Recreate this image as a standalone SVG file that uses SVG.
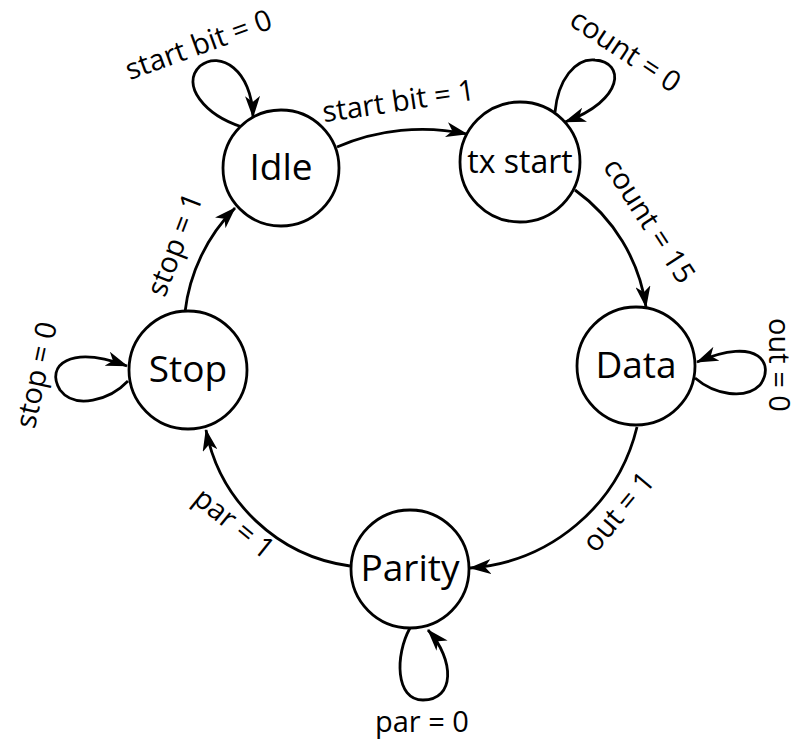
<svg xmlns="http://www.w3.org/2000/svg" width="801" height="740" viewBox="0 0 801 740">
  <style>
    .state circle { fill: #ffffff; stroke: #000000; stroke-width: 2.8; }
    .state text { font-family: "Open Sans", "Liberation Sans", sans-serif; font-size: 37px; fill: #000000; text-anchor: middle; }
    .edge { fill: none; stroke: #000000; stroke-width: 2.8; marker-end: url(#arrow); }
    .label { font-family: "Open Sans", "Liberation Sans", sans-serif; font-size: 29px; fill: #000000; text-anchor: middle; }
  </style>
  <defs>
    <marker id="arrow" markerUnits="userSpaceOnUse" markerWidth="22" markerHeight="15" viewBox="0 0 22 15" refX="21" refY="7.5" orient="auto">
      <path d="M0,0 L22,7.5 L0,15 L6,7.5 z" fill="#000000"/>
    </marker>
  </defs>

  <rect width="801" height="740" fill="#ffffff"/>

  <!-- transitions -->
  <g id="connectors">
    <path class="edge" d="M 337 147 A 215 215 0 0 1 467 134"/>
    <path class="edge" d="M 575 190 A 175 175 0 0 1 646 307"/>
    <path class="edge" d="M 637 427 A 185 185 0 0 1 470 568"/>
    <path class="edge" d="M 350 566 A 170 170 0 0 1 206 430"/>
    <path class="edge" d="M 185 312 A 176 176 0 0 1 235 208"/>

    <!-- self loops -->
    <path class="edge" d="M 242 127 C 205 115, 180 85, 200 66 C 220 50, 252 70, 253 117"/>
    <path class="edge" d="M 555 112 C 558 80, 575 58, 595 60 C 625 62, 625 100, 565 122"/>
    <path class="edge" d="M 695 378 C 715 395, 745 400, 760 385 C 775 365, 760 335, 697 362"/>
    <path class="edge" d="M 128 381 C 110 400, 75 410, 60 390 C 45 365, 70 345, 127 366"/>
    <path class="edge" d="M 410 628 C 395 655, 395 700, 423 700 C 455 700, 455 660, 428 630"/>

    <!-- transition labels -->
    <text class="label" transform="translate(202 54) rotate(-20)">start bit = 0</text>
    <text class="label" transform="translate(400 111) rotate(-8.5)">start bit = 1</text>
    <text class="label" transform="translate(620 59) rotate(33.5)">count = 0</text>
    <text class="label" transform="translate(641 226) rotate(57)">count = 15</text>
    <text class="label" transform="translate(769 365) rotate(90)">out = 0</text>
    <text class="label" transform="translate(626 518) rotate(-50)">out = 1</text>
    <text class="label" transform="translate(228 531) rotate(39)">par = 1</text>
    <text class="label" transform="translate(184 248) rotate(-69)">stop = 1</text>
    <text class="label" transform="translate(46 377) rotate(-78)">stop = 0</text>
    <text class="label" x="422" y="732">par = 0</text>
  </g>

  <!-- states -->
  <g id="idle" class="state">
    <circle cx="281" cy="168" r="58"/>
    <text x="281" y="180">Idle</text>
  </g>
  <g id="tx-start" class="state">
    <circle cx="520" cy="162" r="60"/>
    <text x="520" y="173" style="font-size:32px">tx start</text>
  </g>
  <g id="data" class="state">
    <circle cx="636" cy="366" r="59"/>
    <text x="636" y="378">Data</text>
  </g>
  <g id="parity" class="state">
    <circle cx="410" cy="569" r="59"/>
    <text x="410" y="581">Parity</text>
  </g>
  <g id="stop" class="state">
    <circle cx="188" cy="370" r="59"/>
    <text x="188" y="382">Stop</text>
  </g>
</svg>
